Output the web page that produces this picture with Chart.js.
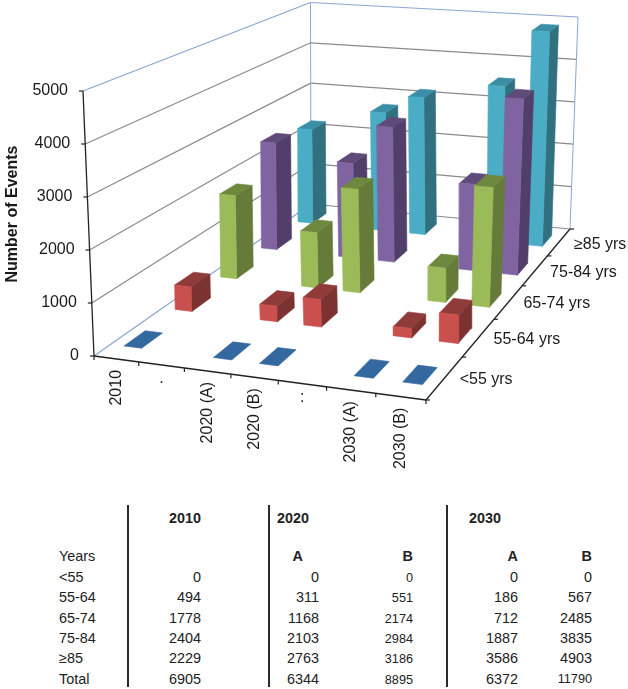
<!DOCTYPE html>
<html>
<head>
<meta charset="utf-8">
<title>Number of Events</title>
<script src="https://cdn.jsdelivr.net/npm/chart.js@4"></script>
<style>
  html, body { margin: 0; padding: 0; background: #fff; overflow: hidden; }
  #wrap { position: relative; width: 628px; height: 689px; font-family: "Liberation Sans", Arial, sans-serif; color: #222; }
  #myChart { position: absolute; left: 0; top: 0; }
  .cell { position: absolute; font-size: 14.4px; line-height: 16px; white-space: nowrap; }
  .bold { font-weight: bold; }
  .small { font-size: 12.7px; }
  .rule { position: absolute; top: 505px; height: 182px; width: 2px; background: #2b2b2b; }
</style>
</head>
<body>
<div id="wrap"><canvas id="myChart"></canvas></div>
<script>
// Data
const categories = ['2010', '.', '2020 (A)', '2020 (B)', ':', '2030 (A)', '2030 (B)'];
const seriesNames = ['<55 yrs', '55-64 yrs', '65-74 yrs', '75-84 yrs', '≥85 yrs'];
const under55 = [0, null, 0, 0, null, 0, 0];
const age55to64 = [494, null, 311, 551, null, 186, 567];
const age65to74 = [1778, null, 1168, 2174, null, 712, 2485];
const age75to84 = [2404, null, 2103, 2984, null, 1887, 3835];
const age85plus = [2229, null, 2763, 3186, null, 3586, 4903];
const totals = [6905, null, 6344, 8895, null, 6372, 11790];
const yTicks = [0, 1000, 2000, 3000, 4000, 5000];
const tableRows = ['<55', '55-64', '65-74', '75-84', '≥85', 'Total'];
const seriesValues = [under55, age55to64, age65to74, age75to84, age85plus];

const yMax = 5000;
// front, side, top colours per series
const barColors = [
  ['#32689f', '#32689f', '#34699f'],
  ['#c9504d', '#7c3230', '#8f3b39'],
  ['#9bbb59', '#667b3a', '#6f8840'],
  ['#8064a2', '#523e6b', '#5f4a79'],
  ['#4bacc6', '#31707f', '#3a8ea6']
];

// square -> quad perspective map, corners are (0,0) (1,0) (1,1) (0,1)
function quadMap(p0, p1, p2, p3) {
  const dx1 = p1[0] - p2[0], dx2 = p3[0] - p2[0], sx = p0[0] - p1[0] + p2[0] - p3[0];
  const dy1 = p1[1] - p2[1], dy2 = p3[1] - p2[1], sy = p0[1] - p1[1] + p2[1] - p3[1];
  const det = dx1 * dy2 - dx2 * dy1;
  const g = (sx * dy2 - dx2 * sy) / det, h = (dx1 * sy - sx * dy1) / det;
  const a = p1[0] - p0[0] + g * p1[0], b = p3[0] - p0[0] + h * p3[0];
  const d = p1[1] - p0[1] + g * p1[1], e = p3[1] - p0[1] + h * p3[1];
  return (u, v) => {
    const w = g * u + h * v + 1;
    return [(a * u + b * v + p0[0]) / w, (d * u + e * v + p0[1]) / w];
  };
}

const floorMap = quadMap([94, 356], [426, 400], [570, 229], [311, 204]);
const ceilMap = quadMap([83, 91], [430, 131], [578, 17], [310.5, 2.5]);

// u = along categories, v = along series, val = event count
function project(u, v, val) {
  const f = floorMap(u, v), c = ceilMap(u, v), t = val / yMax;
  return { x: f[0] + (c[0] - f[0]) * t, y: f[1] + (c[1] - f[1]) * t };
}

let layers = [];

function addLine(points, color, width) {
  layers.push({
    data: points, showLine: true, fill: false, borderColor: color,
    borderWidth: width, pointRadius: 0, clip: false
  });
}

function addFace(points, color) {
  layers.push({
    data: points.concat([points[0]]), showLine: true, fill: 'shape', backgroundColor: color,
    borderColor: color, borderWidth: 0.6, pointRadius: 0, clip: false
  });
}

// walls
const wallBlue = '#8aa6cf', gridGray = '#8a8a8a', axisBlack = '#222';
yTicks.forEach(t => {
  let color = t === yMax ? wallBlue : gridGray;
  if (t > 0) addLine([project(0, 0, t), project(0, 1, t)], color, 1.2);
  addLine([project(0, 1, t), project(1, 1, t)], color, 1.2);
});
addLine([project(0, 0, 0), project(0, 1, 0)], wallBlue, 1.2);
addLine([project(0, 1, 0), project(0, 1, yMax)], wallBlue, 1);
addLine([project(1, 1, 0), project(1, 1, yMax)], wallBlue, 1);

// axes and tick marks
addLine([project(0, 0, 0), project(0, 0, yMax)], axisBlack, 1.3);
addLine([project(0, 0, 0), project(1, 0, 0)], axisBlack, 1.3);
addLine([project(1, 0, 0), project(1, 1, 0)], axisBlack, 1.3);
yTicks.forEach(t => {
  let p = project(0, 0, t);
  addLine([p, { x: p.x - 4, y: p.y }], axisBlack, 1.2);
});
categories.concat(['']).forEach((c, i) => {
  let p = project(i / categories.length, 0, 0);
  addLine([p, { x: p.x, y: p.y + 4 }], axisBlack, 1.2);
});
seriesNames.concat(['']).forEach((s, i) => {
  let p = project(1, i / seriesNames.length, 0);
  addLine([p, { x: p.x + 4, y: p.y }], axisBlack, 1.2);
});

// bars, back row first, left to right
const barShare = 0.4;
for (let s = seriesValues.length - 1; s >= 0; s--) {
  seriesValues[s].forEach((val, c) => {
    if (val === null) return;
    const pad = (1 - barShare) / 2;
    const u0 = (c + pad) / categories.length, u1 = (c + 1 - pad) / categories.length;
    const v0 = (s + pad) / seriesNames.length, v1 = (s + 1 - pad) / seriesNames.length;
    const col = barColors[s];
    if (val > 0) {
      addFace([project(u1, v0, 0), project(u1, v1, 0), project(u1, v1, val), project(u1, v0, val)], col[1]);
    }
    addFace([project(u0, v0, val), project(u1, v0, val), project(u1, v1, val), project(u0, v1, val)], col[2]);
    if (val > 0) {
      addFace([project(u0, v0, 0), project(u1, v0, 0), project(u1, v0, val), project(u0, v0, val)], col[0]);
    }
  });
}

// first dataset is painted last in Chart.js
layers.reverse();

const axisText = {
  id: 'axisText',
  afterDraw(chart) {
    const ctx = chart.ctx, xs = chart.scales.x, ys = chart.scales.y;
    const px = p => [xs.getPixelForValue(p.x), ys.getPixelForValue(p.y)];
    ctx.save();
    ctx.fillStyle = '#1a1a1a';
    ctx.font = '16px "Liberation Sans"';
    ctx.textBaseline = 'middle';

    ctx.textAlign = 'right';
    yTicks.forEach(t => {
      let p = px(project(0, 0, t));
      ctx.fillText(String(t), p[0] - 15, p[1]);
    });

    ctx.textAlign = 'left';
    seriesNames.forEach((s, i) => {
      let p = px(project(1, (i + 0.5) / seriesNames.length, 0));
      ctx.fillText(s, p[0] + 15, p[1] + 2);
    });

    ctx.textAlign = 'right';
    categories.forEach((c, i) => {
      let p = px(project((i + 0.5) / categories.length, 0, 0));
      if (c.length === 1) {
        // the two filler labels stand upright
        ctx.textAlign = 'center';
        ctx.fillText(c, p[0], p[1] + 14);
        ctx.textAlign = 'right';
        return;
      }
      ctx.save();
      ctx.translate(p[0], p[1] + 11);
      ctx.rotate(-Math.PI / 2);
      ctx.fillText(c, 0, 0);
      ctx.restore();
    });

    ctx.save();
    ctx.font = 'bold 16px "Liberation Sans"';
    ctx.textAlign = 'center';
    ctx.translate(13, 214);
    ctx.rotate(-Math.PI / 2);
    ctx.fillText('Number of Events', 0, 0);
    ctx.restore();
    ctx.restore();
  }
};

let canvas = document.getElementById('myChart');
canvas.width = 628;
canvas.height = 489;
new Chart(canvas.getContext('2d'), {
  type: 'scatter',
  data: { datasets: layers },
  options: {
    responsive: false,
    animation: false,
    events: [],
    layout: { padding: 0 },
    plugins: { legend: { display: false }, tooltip: { enabled: false } },
    scales: {
      x: { type: 'linear', display: false, min: 0, max: 628 },
      y: { type: 'linear', display: false, min: 0, max: 489, reverse: true }
    }
  },
  plugins: [axisText]
});

// Table under the chart
const wrap = document.getElementById('wrap');
function addCell(text, x, y, right, cls) {
  let el = document.createElement('div');
  el.className = 'cell ' + (cls || '');
  el.textContent = text;
  el.style.top = (y - 8) + 'px';
  if (right) el.style.right = (628 - x) + 'px';
  else el.style.left = x + 'px';
  wrap.appendChild(el);
}
[127, 267.5, 445.5].forEach(x => {
  let r = document.createElement('div');
  r.className = 'rule';
  r.style.left = x + 'px';
  wrap.appendChild(r);
});
const rowY = [577, 597, 618, 638, 658, 679];
const colRight = [201, null, 319, 413, null, 518, 592];

addCell('2010', 201, 518, true, 'bold');
addCell('2020', 277, 518, false, 'bold');
addCell('2030', 469, 518, false, 'bold');
addCell('Years', 59, 556, false);
addCell('A', 303, 556, true, 'bold');
addCell('B', 413, 556, true, 'bold');
addCell('A', 518, 556, true, 'bold');
addCell('B', 592, 556, true, 'bold');

tableRows.forEach((name, r) => {
  addCell(name, 59, rowY[r], false);
  let vals = r < seriesValues.length ? seriesValues[r] : totals;
  vals.forEach((v, c) => {
    if (v === null) return;
    let small = c === 3 || v > 9999;
    addCell(String(v), colRight[c], rowY[r] + (c === 3 ? 1 : 0), true, small ? 'small' : '');
  });
});
</script>
</body>
</html>
